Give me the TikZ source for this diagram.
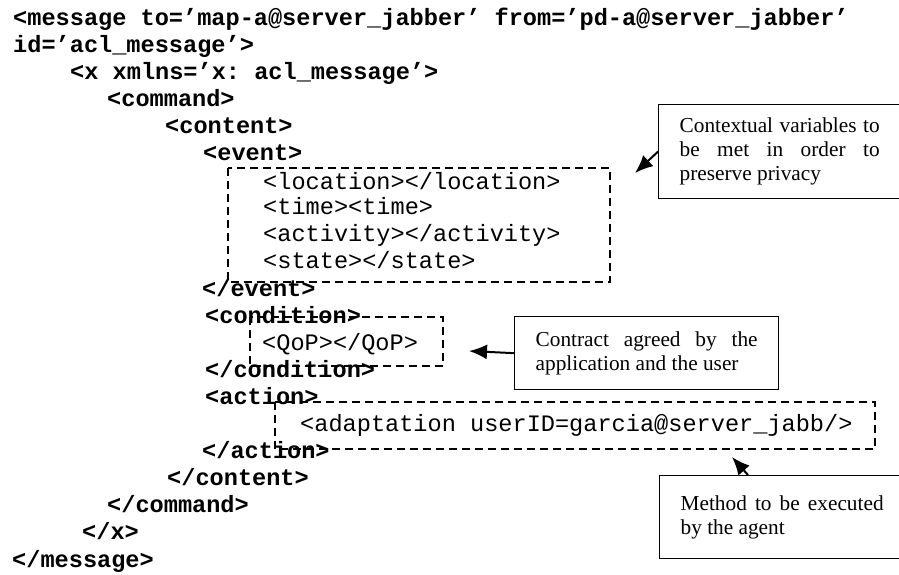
\documentclass[tikz,border=0pt]{standalone}
\usepackage{fontspec}
\setmainfont{Liberation Serif}
\setmonofont{Liberation Mono}
\usetikzlibrary{arrows.meta}
\hyphenpenalty=10000
\exhyphenpenalty=10000
\newcommand\pitch{27.1}
\newcommand\firstbase{25}

\tikzset{
  tagline/.style={anchor=base west, inner sep=0pt, font=\fontsize{23.6}{27}\selectfont\ttfamily\bfseries},
  valline/.style={anchor=base west, inner sep=0pt, font=\fontsize{23.6}{27}\selectfont\ttfamily},
  note/.style={draw, line width=1.3pt, anchor=north west, inner xsep=21pt, inner ysep=0pt,
    align=justify, font=\fontsize{21.3}{23.8}\selectfont},
  hint/.style={draw, line width=1.5pt, dash pattern=on 8pt off 5pt},
  pointer/.style={line width=2pt, -{Latex[length=18pt,width=15pt]}}
}

\begin{document}
\begin{tikzpicture}[x=1pt, y=-1pt]
    \useasboundingbox (0,0) rectangle (899,574);

    % xml lines
    \node[tagline] (msg)     at (13, {\firstbase+\pitch*0})  {<message to=’map-a@server\_jabber’ from=’pd-a@server\_jabber’};
    \node[tagline] (msgid)   at (13, {\firstbase+\pitch*1})  {id=’acl\_message’>};
    \node[tagline] (xopen)   at (70, {\firstbase+\pitch*2})  {<x xmlns=’x: acl\_message’>};
    \node[tagline] (cmd)     at (107,{\firstbase+\pitch*3})  {<command>};
    \node[tagline] (cont)    at (165,{\firstbase+\pitch*4})  {<content>};
    \node[tagline] (ev)      at (203,{\firstbase+\pitch*5})  {<event>};
    \node[valline] (loc)     at (263,{\firstbase+\pitch*6+2})  {<location></location>};
    \node[valline] (tim)     at (263,{\firstbase+\pitch*7})  {<time><time>};
    \node[valline] (activ)   at (263,{\firstbase+\pitch*8})  {<activity></activity>};
    \node[valline] (stat)    at (263,{\firstbase+\pitch*9})  {<state></state>};
    \node[tagline] (evend)   at (202,{\firstbase+\pitch*10}) {</event>};
    \node[tagline] (cond)    at (205,{\firstbase+\pitch*11}) {<condition>};
    \node[valline] (qop)     at (262,{\firstbase+\pitch*12}) {<QoP></QoP>};
    \node[tagline] (condend) at (205,{\firstbase+\pitch*13}) {</condition>};
    \node[tagline] (act)     at (205,{\firstbase+\pitch*14}) {<action>};
    \node[valline] (adapt)   at (300,{\firstbase+\pitch*15}) {<adaptation userID=garcia@server\_jabb/>};
    \node[tagline] (actend)  at (202,{\firstbase+\pitch*16}) {</action>};
    \node[tagline] (contend) at (167,{\firstbase+\pitch*17}) {</content>};
    \node[tagline] (cmdend)  at (107,{\firstbase+\pitch*18}) {</command>};
    \node[tagline] (xend)    at (82, {\firstbase+\pitch*19}) {</x>};
    \node[tagline] (msgend)  at (12, {\firstbase+\pitch*20}) {</message>};

    % dashed groups
    \draw[hint] (228,168) rectangle (610,282);
    \draw[hint] (250,317) rectangle (443,366);
    \draw[hint] (275,402) rectangle (875,449);

    % callouts
    \node[note, text width=200pt, minimum height=94pt] (ctx) at (658,104)
      {Contextual variables to\linebreak be met in order to\linebreak preserve privacy};
    \node[note, text width=222pt, minimum height=73pt] (contract) at (514,316)
      {Contract agreed by the\linebreak application and the user};
    \node[note, text width=203pt, minimum height=83pt] (meth) at (659,475)
      {Method to be executed\linebreak by the agent};

    % arrows
    \coordinate (ctxtip) at (635,173);
    \coordinate (qoptip) at (469,351);
    \coordinate (acttip) at (732,457);
    \draw[pointer] (ctx.west) -- (ctxtip);
    \draw[pointer] (contract.west) -- (qoptip);
    \draw[pointer] ([xshift=89pt]meth.north west) -- (acttip);
\end{tikzpicture}
\end{document}
